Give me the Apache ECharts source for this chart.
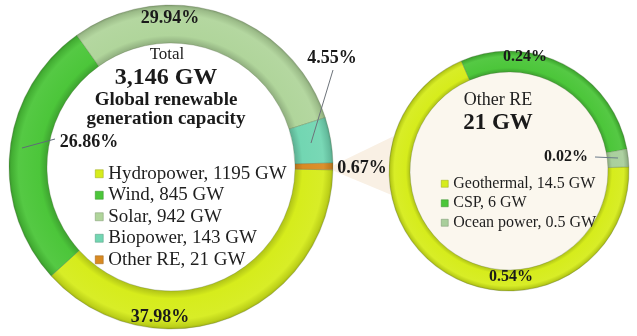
<!DOCTYPE html>
<html>
<head>
<meta charset="utf-8">
<script src="https://cdn.jsdelivr.net/npm/echarts@6/dist/echarts.min.js"></script>
<style>
html,body{margin:0;padding:0;background:#fff;}
#chart{width:637px;height:336px;}
</style>
</head>
<body>
<div id="chart"></div>
<script>
// ---- data ----
const totalCategories = ['Hydropower', 'Wind', 'Solar', 'Biopower', 'Other RE'];
const totalValues = [1195, 845, 942, 143, 21];
const totalPctLabels = ['37.98%', '26.86%', '29.94%', '4.55%', '0.67%'];
const otherCategories = ['Geothermal', 'CSP', 'Ocean power'];
const otherValues = [14.5, 6, 0.5];
const otherPctLabels = ['0.54%', '0.24%', '0.02%'];

// ---- styles ----
const FONT = '"Liberation Serif", "Times New Roman", serif';
const totalColors = ['#d6ec1c', '#4cc63a', '#b0d59b', '#72d6b2', '#d98a22'];
const otherColors = ['#d6ec1c', '#4cc63a', '#a9cf9c'];
const L = {cx: 171, cy: 167, r0: 124, r1: 162};
const R = {cx: 509, cy: 171, r0: 99, r1: 120};
const leftLabelPos = [[160, 317], [89, 142], [170, 18], [332, 58], [362, 168]];
const rightLabelPos = [[511, 277], [525, 57], [566, 157]];
const leaderLines = [
  {pts: [[22, 148], [55, 139]], color: '#5f6b78'},
  {pts: [[311, 143], [333, 70]], color: '#6d737a'},
  {pts: [[618, 158], [595, 157]], color: '#6a7a8a'}
];

function shade(hex, f) {
  const n = parseInt(hex.slice(1), 16);
  let r = (n >> 16) & 255, g = (n >> 8) & 255, b = n & 255;
  if (f < 0) { r = r * (1 + f); g = g * (1 + f); b = b * (1 + f); }
  else { r = r + (255 - r) * f; g = g + (255 - g) * f; b = b + (255 - b) * f; }
  return 'rgb(' + Math.round(r) + ',' + Math.round(g) + ',' + Math.round(b) + ')';
}
function ringGrad(c, geo) {
  const a = geo.r0 / geo.r1;
  return new echarts.graphic.RadialGradient(geo.cx, geo.cy, geo.r1, [
    {offset: 0, color: shade(c, -0.2)},
    {offset: a, color: shade(c, -0.18)},
    {offset: a + (1 - a) * 0.2, color: c},
    {offset: a + (1 - a) * 0.75, color: shade(c, 0.05)},
    {offset: 0.985, color: shade(c, -0.12)},
    {offset: 1, color: shade(c, -0.25)}
  ], true);
}

const totalData = totalCategories.map((n, i) => ({
  name: n, value: totalValues[i],
  itemStyle: {color: ringGrad(totalColors[i], L)}
}));
const otherData = otherCategories.map((n, i) => ({
  name: n, value: otherValues[i],
  itemStyle: {color: ringGrad(otherColors[i], R)}
}));
const valueOf = {};
totalCategories.forEach((n, i) => valueOf[n] = totalValues[i]);
otherCategories.forEach((n, i) => valueOf[n] = otherValues[i]);

const chart = echarts.init(document.getElementById('chart'), null, {renderer: 'canvas'});
chart.setOption({
  animation: false,
  backgroundColor: '#ffffff',
  legend: [{
    orient: 'vertical', left: 90, top: 158, itemGap: 0,
    itemWidth: 8, itemHeight: 8, icon: 'rect', selectedMode: false,
    data: totalCategories.map((n, i) => ({name: n, itemStyle: {color: totalColors[i], borderColor: shade(totalColors[i], -0.3), borderWidth: 0.5}})),
    formatter: n => n + ', ' + valueOf[n] + ' GW',
    textStyle: {fontFamily: FONT, fontSize: 19, color: '#1e1e1e', lineHeight: 21.5}
  }, {
    orient: 'vertical', left: 436, top: 169, itemGap: 0,
    itemWidth: 7, itemHeight: 7, icon: 'rect', selectedMode: false,
    data: otherCategories.map((n, i) => ({name: n, itemStyle: {color: otherColors[i], borderColor: shade(otherColors[i], -0.3), borderWidth: 0.5}})),
    formatter: n => n + ', ' + valueOf[n] + ' GW',
    textStyle: {fontFamily: FONT, fontSize: 16, color: '#1e1e1e', lineHeight: 19.5}
  }],
  graphic: [
    {type: 'polygon', z: -10, silent: true,
     shape: {points: [[334, 165], [334, 171], [394, 196], [394, 136]]},
     style: {fill: '#f9f0e4'}},
    {type: 'circle', z: -5, silent: true,
     shape: {cx: R.cx, cy: R.cy, r: R.r0 + 1},
     style: {fill: '#fbf7ee'}},
    ...leaderLines.map(l => ({type: 'polyline', z: 10, silent: true, shape: {points: l.pts}, style: {stroke: l.color, lineWidth: 1, fill: null}})),
    {type: 'text', x: 167, y: 55, silent: true, style: {text: 'Total', font: '17px ' + FONT, fill: '#222', align: 'center', verticalAlign: 'middle'}},
    {type: 'text', x: 166, y: 78, silent: true, style: {text: '3,146 GW', font: 'bold 24px ' + FONT, fill: '#1a1a1a', align: 'center', verticalAlign: 'middle'}},
    {type: 'text', x: 166, y: 100, silent: true, style: {text: 'Global renewable', font: 'bold 19px ' + FONT, fill: '#1a1a1a', align: 'center', verticalAlign: 'middle'}},
    {type: 'text', x: 166, y: 119, silent: true, style: {text: 'generation capacity', font: 'bold 19px ' + FONT, fill: '#1a1a1a', align: 'center', verticalAlign: 'middle'}},
    {type: 'text', x: 498, y: 100, silent: true, style: {text: 'Other RE', font: '18px ' + FONT, fill: '#222', align: 'center', verticalAlign: 'middle'}},
    {type: 'text', x: 498, y: 123, silent: true, style: {text: '21 GW', font: 'bold 23px ' + FONT, fill: '#1a1a1a', align: 'center', verticalAlign: 'middle'}}
  ],
  series: [{
    type: 'pie', name: 'Total', center: [L.cx, L.cy], radius: [L.r0, L.r1],
    startAngle: -1, clockwise: true, avoidLabelOverlap: false, silent: true,
    itemStyle: {borderColor: 'rgba(80,100,60,0.45)', borderWidth: 0.6},
    label: {show: true, position: 'outside', fontFamily: FONT, fontWeight: 'bold', fontSize: 18, color: '#1a1a1a',
            formatter: p => totalPctLabels[p.dataIndex]},
    labelLine: {show: false},
    labelLayout: p => ({x: leftLabelPos[p.dataIndex][0], y: leftLabelPos[p.dataIndex][1], align: 'center', verticalAlign: 'middle'}),
    data: totalData
  }, {
    type: 'pie', name: 'Other RE', center: [R.cx, R.cy], radius: [R.r0, R.r1],
    startAngle: 2, clockwise: true, avoidLabelOverlap: false, silent: true,
    itemStyle: {borderColor: 'rgba(80,100,60,0.45)', borderWidth: 0.6},
    label: {show: true, position: 'outside', fontFamily: FONT, fontWeight: 'bold', fontSize: 16, color: '#1a1a1a',
            formatter: p => otherPctLabels[p.dataIndex]},
    labelLine: {show: false},
    labelLayout: p => ({x: rightLabelPos[p.dataIndex][0], y: rightLabelPos[p.dataIndex][1], align: 'center', verticalAlign: 'middle'}),
    data: otherData
  }]
});
</script>
</body>
</html>
